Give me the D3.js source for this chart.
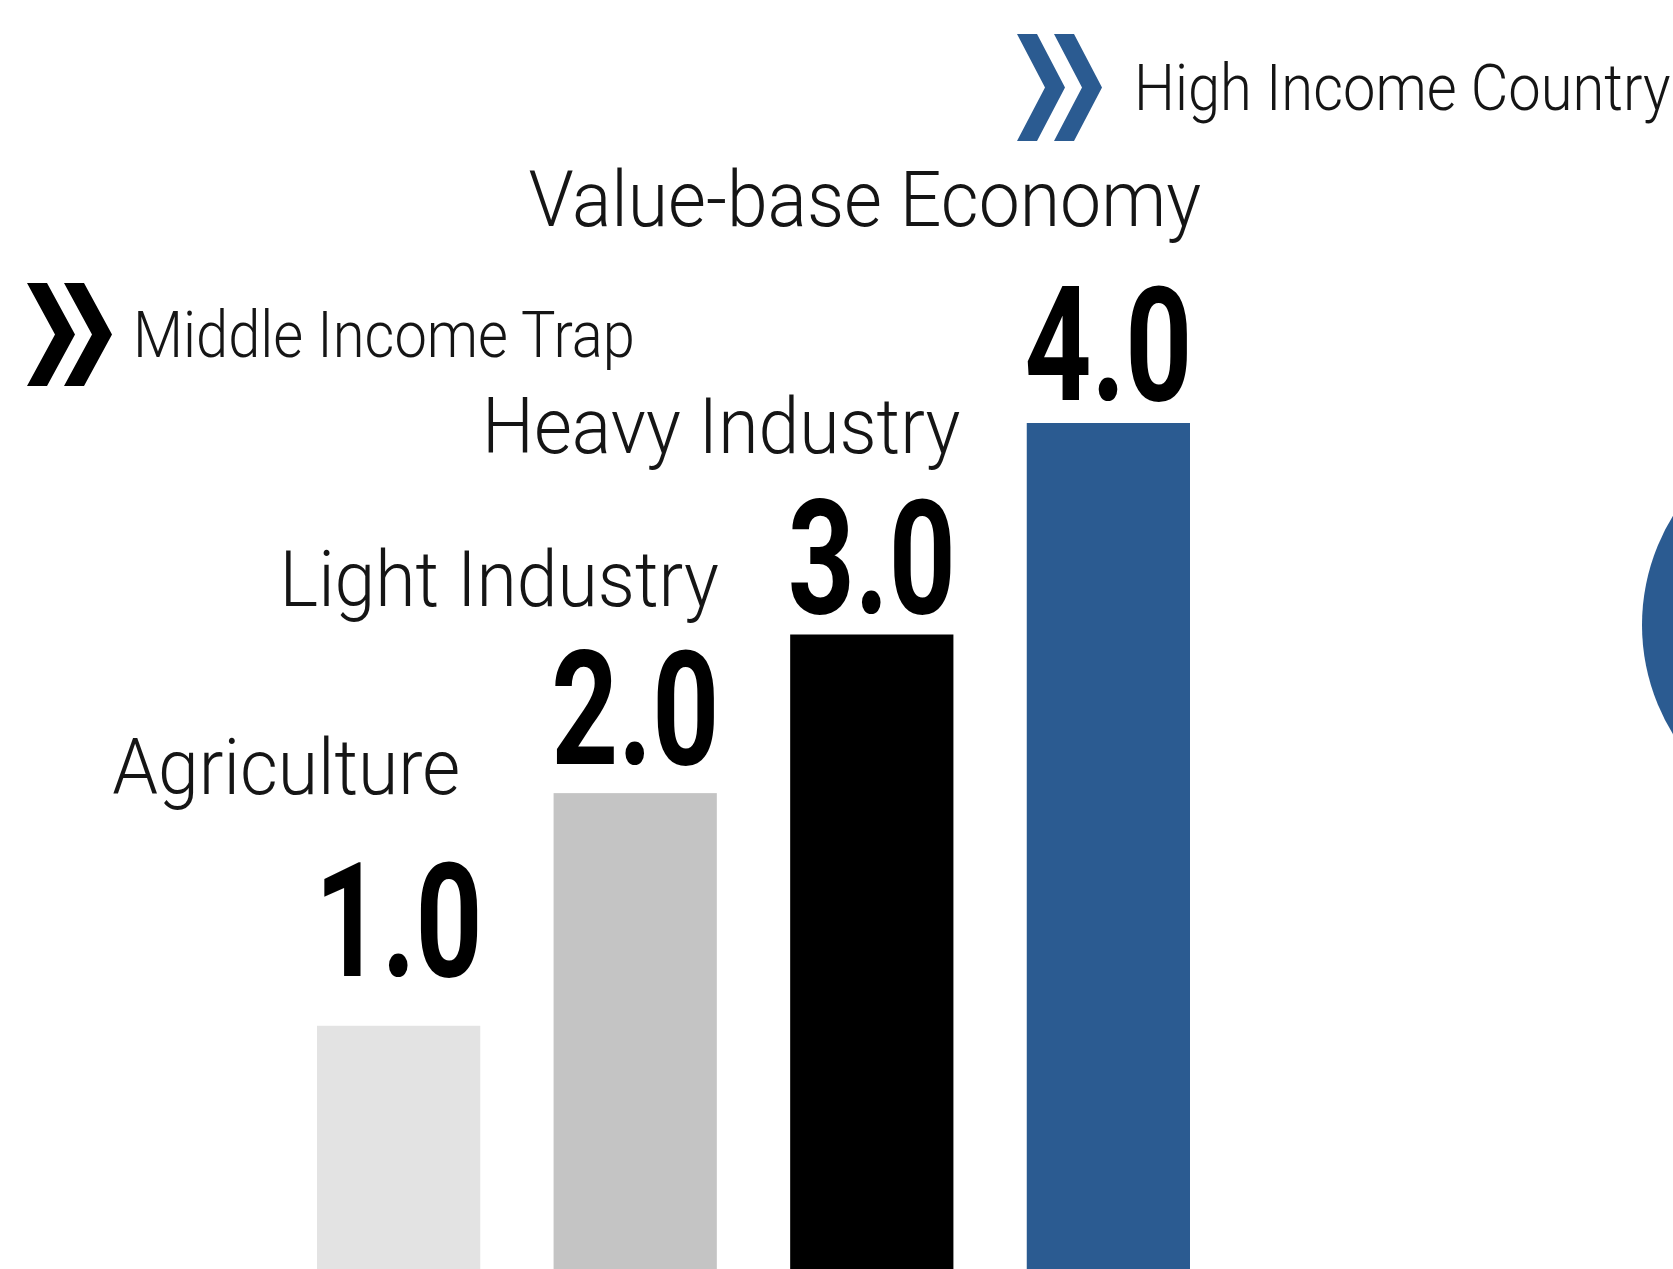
<!DOCTYPE html>
<meta charset="utf-8">
<head>
  <title>Economy stages</title>
  <script src="https://d3js.org/d3.v7.min.js"></script>
  <style>
    body { margin: 0; background: #fff; }
    .stage { font-family: Roboto, "Liberation Sans", sans-serif; font-weight: 300; fill: #151515; }
    .value { font-family: Roboto, "Liberation Sans", sans-serif; font-weight: 700; fill: #000; }
    .milestone { font-family: Roboto, "Liberation Sans", sans-serif; font-weight: 300; fill: #151515; }
  </style>
</head>
<body>
<div id="chart"></div>
<script>

// stages of development, left to right
var stages = ["Agriculture", "Light Industry", "Heavy Industry", "Value-base Economy"];
var valueLabels = ["1.0", "2.0", "3.0", "4.0"];
// bar heights as drawn in the picture (same units as the labels)
var barLevels = [1.15, 2.25, 3.0, 4.0];
var barColors = ["#e3e3e3", "#c4c4c4", "#000000", "#2b5b91"];

var milestones = ["Middle Income Trap", "High Income Country"];
var milestoneColors = ["#000000", "#2b5b91"];

var width = 1673, height = 1269;

var svg = d3.select("#chart").append("svg")
    .attr("width", width)
    .attr("height", height);

var x = d3.scaleBand()
    .domain(stages)
    .range([317, 1190])
    .paddingInner(0.31)
    .paddingOuter(0);

var y = d3.scaleLinear()
    .domain([0, 4])
    .range([height, 423]);

// squeeze text horizontally, the original face is a condensed one
function condense(sel, k) {
  sel.each(function() {
    var w = this.getComputedTextLength();
    d3.select(this).attr("textLength", w * k).attr("lengthAdjust", "spacingAndGlyphs");
  });
}

// big circle peeking in at the right edge
svg.append("circle")
    .attr("cx", 1850)
    .attr("cy", 625)
    .attr("r", 208)
    .style("fill", "#2b5b91");

svg.selectAll("rect.bar")
    .data(stages)
    .enter().append("rect")
    .attr("class", "bar")
    .attr("x", function(d) { return x(d); })
    .attr("width", x.bandwidth())
    .attr("y", function(d, i) { return y(barLevels[i]); })
    .attr("height", function(d, i) { return height - y(barLevels[i]); })
    .style("fill", function(d, i) { return barColors[i]; });

// value numbers on top of bars
var valueNudge = [-50, -29, -22, -23];
svg.selectAll("text.value")
    .data(valueLabels)
    .enter().append("text")
    .attr("class", "value")
    .attr("x", function(d, i) { return x(stages[i]) + x.bandwidth() / 2; })
    .attr("y", function(d, i) { return y(barLevels[i]) + valueNudge[i]; })
    .attr("text-anchor", "middle")
    .style("font-size", "160px")
    .text(function(d) { return d; })
    .call(condense, 0.73);

// stage names, right aligned near the bar edge
var stageDx = [-20, 2, 7, 11], stageDy = [-232, -187, -182, -197];
svg.selectAll("text.stage")
    .data(stages)
    .enter().append("text")
    .attr("class", "stage")
    .attr("x", function(d, i) { return x(d) + x.bandwidth() + stageDx[i]; })
    .attr("y", function(d, i) { return y(barLevels[i]) + stageDy[i]; })
    .attr("text-anchor", "end")
    .style("font-size", "77px")
    .text(function(d) { return d; })
    .call(condense, 0.952);

// chevron markers with their captions
function chevron(h, w, t) {
  var pts = [[0, 0], [t, 0], [w, h / 2], [t, h], [0, h], [w - t, h / 2]];
  return "M" + pts.map(function(p) { return p.join(","); }).join("L") + "Z";
}

var markPos = [{x: 27, y: 283, h: 103, tx: 133, ty: 357},
               {x: 1017, y: 34, h: 107, tx: 1134, ty: 110}];

var marks = svg.selectAll("g.mark")
    .data(milestones)
    .enter().append("g")
    .attr("class", "mark")
    .attr("transform", function(d, i) { return "translate(" + markPos[i].x + "," + markPos[i].y + ")"; });

marks.each(function(d, i) {
  var g = d3.select(this), h = markPos[i].h;
  [0, 37].forEach(function(off) {
    g.append("path")
      .attr("transform", "translate(" + off + ",0)")
      .attr("d", chevron(h, 48, 20))
      .style("fill", milestoneColors[i]);
  });
  g.append("text")
    .attr("class", "milestone")
    .attr("x", markPos[i].tx - markPos[i].x)
    .attr("y", markPos[i].ty - markPos[i].y)
    .style("font-size", "65px")
    .text(d)
    .call(condense, 0.89);
});

</script>
</body>
